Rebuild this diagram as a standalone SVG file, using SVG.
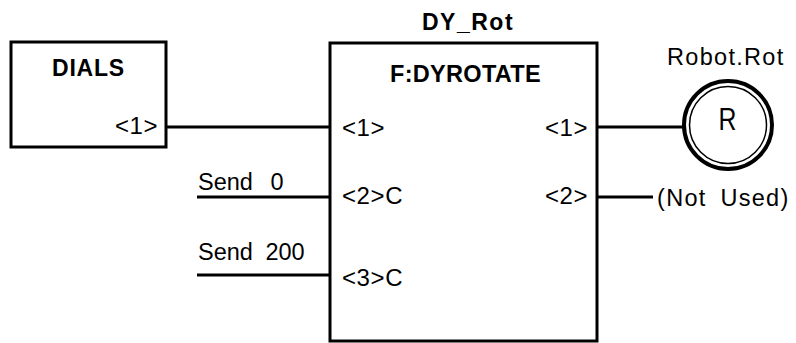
<svg xmlns="http://www.w3.org/2000/svg" width="796" height="343" viewBox="0 0 796 343">
<style>
.box{fill:#fff;stroke:#000;stroke-width:3}
.ln{stroke:#000;stroke-width:3;fill:none}
.t{font-family:"Liberation Sans",Arial,sans-serif;fill:#000}
.b{font-weight:bold}
.port{font-size:24px;letter-spacing:0.6px}
.lab{font-size:23.5px}
</style>
<rect width="796" height="343" fill="#fff"/>
<g id="connectors">
<line class="ln" x1="166" y1="127" x2="330" y2="127"/>
<line class="ln" x1="197" y1="197" x2="330" y2="197"/>
<line class="ln" x1="197" y1="275" x2="330" y2="275"/>
<line class="ln" x1="597" y1="127" x2="684" y2="127"/>
<line class="ln" x1="597" y1="197" x2="653" y2="197"/>
</g>
<g id="dials">
<rect class="box" x="11" y="42" width="155" height="105"/>
<text class="t b" x="52" y="76" font-size="23" letter-spacing="0.8">DIALS</text>
<text class="t port" x="115" y="134">&lt;1&gt;</text>
</g>
<g id="dy_rot">
<text class="t b" x="422" y="30" font-size="23" letter-spacing="1.5">DY_Rot</text>
<rect class="box" x="330" y="43" width="267" height="298"/>
<text class="t b" x="390" y="82" font-size="23.5" letter-spacing="0.3">F:DYROTATE</text>
<text class="t port" x="342" y="136">&lt;1&gt;</text>
<text class="t port" x="342" y="204">&lt;2&gt;C</text>
<text class="t port" x="342" y="286">&lt;3&gt;C</text>
<text class="t port" x="545" y="136">&lt;1&gt;</text>
<text class="t port" x="545" y="204">&lt;2&gt;</text>
</g>
<g id="send0">
<text class="t lab" x="198" y="190" word-spacing="11">Send 0</text>
</g>
<g id="send200">
<text class="t lab" x="198" y="260" word-spacing="6">Send 200</text>
</g>
<g id="robot_rot">
<text class="t lab" x="667" y="65" letter-spacing="1.3">Robot.Rot</text>
<circle cx="728" cy="125" r="44" fill="#fff" stroke="#000" stroke-width="4"/>
<circle cx="728" cy="125" r="38.5" fill="none" stroke="#000" stroke-width="1.5"/>
<text class="t" transform="translate(727.5,130) scale(0.8,1)" text-anchor="middle" font-size="31">R</text>
</g>
<g id="not_used">
<text class="t lab" x="657" y="206" letter-spacing="1.3" word-spacing="6">(Not Used)</text>
</g>
</svg>
